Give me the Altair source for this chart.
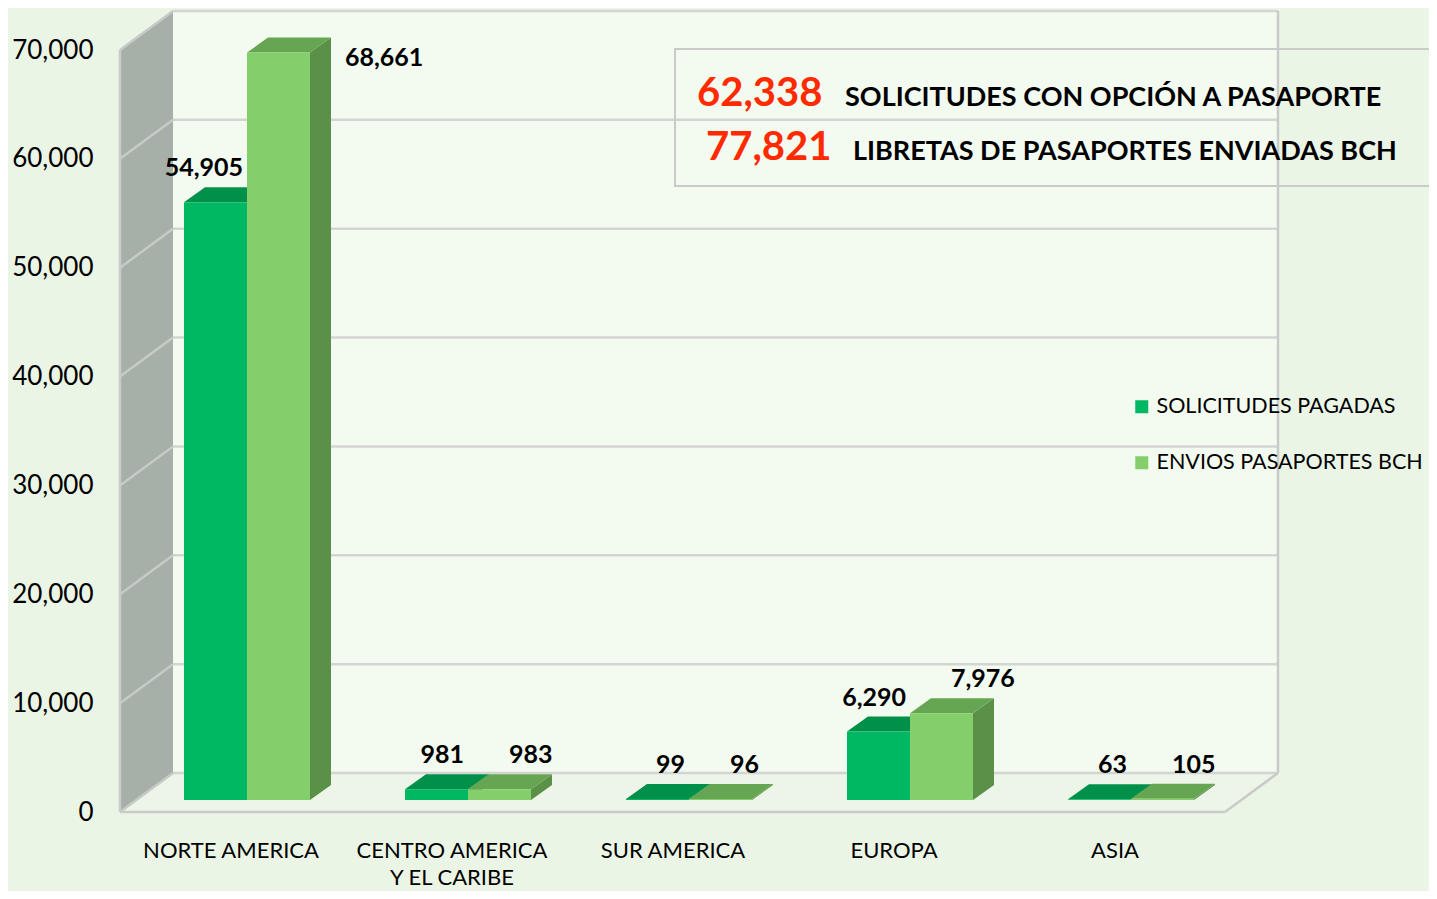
import json
import altair as alt
import pandas as pd

# ---------------- data ----------------
CATEGORIES = ["NORTE AMERICA", "CENTRO AMERICA\nY EL CARIBE", "SUR AMERICA", "EUROPA", "ASIA"]
SERIES = ["SOLICITUDES PAGADAS", "ENVIOS PASAPORTES BCH"]
SOLICITUDES_PAGADAS = [54905, 981, 99, 6290, 63]
ENVIOS_PASAPORTES = [68661, 983, 96, 7976, 105]
Y_TICKS = [0, 10000, 20000, 30000, 40000, 50000, 60000, 70000]
TOTALS = [62338, 77821]
TOTAL_TEXTS = ["SOLICITUDES CON OPCIÓN A PASAPORTE", "LIBRETAS DE PASAPORTES ENVIADAS BCH"]

# ---------------- styling / geometry ----------------
FONT = "Lato"
BG = "#EBF5E6"
WALL = "#F3FAEF"
FLOOR = "#EDF5E8"
LEFT_WALL = "#A7AFA9"
GRID = "#D3D5D3"
GRID_LEFT = "#C6CBC7"
FRONT = ["#00B862", "#84CF6B"]
TOP = ["#00904A", "#66A652"]
SIDE = ["#008A45", "#5A9047"]

CAT_PX = 221.0
W, H = 1158, 802
Y_TOP = Y_TICKS[-1]
PPU = 762.0 / Y_TOP
XMAX = W / CAT_PX
YMAX = H / PPU
N = len(CATEGORIES)


def ux(p):
    return p / CAT_PX


def uy(p):
    return p / PPU


WALL_DX, WALL_DY = ux(53), uy(39)
BAR_DX, BAR_DY = ux(16), uy(12)      # depth position of bar fronts
DEP_DX, DEP_DY = ux(21), uy(15)      # depth of each bar
BAR_X0, BAR_W = ux(48), ux(63)

XS = alt.Scale(domain=[0, XMAX], nice=False, zero=False)
YS = alt.Scale(domain=[0, YMAX], nice=False, zero=False)

label_expr = ""
for i, c in enumerate(CATEGORIES):
    lines = c.split("\n")
    lit = json.dumps(lines if len(lines) > 1 else c, ensure_ascii=False)
    if i < N - 1:
        label_expr += f"datum.value < {i + 1} ? {lit} : "
    else:
        label_expr += lit

XA = alt.Axis(values=[i + 0.5 for i in range(N)], labelExpr=label_expr, title=None,
              ticks=False, domain=False, grid=False, labelFont=FONT, labelFontSize=22,
              labelColor="#000000", labelPadding=28, labelLineHeight=27,
              labelOverlap=False, labelFlush=False, labelBound=False, labelLimit=400,
              labelAlign="center", labelBaseline="top")
YA = alt.Axis(values=Y_TICKS, labelExpr="format(datum.value, ',')", title=None,
              ticks=False, domain=False, grid=False,
              labelFont=FONT, labelFontSize=26, labelColor="#000000", labelPadding=27,
              labelOverlap=False, labelFlush=False, labelBound=False, labelLimit=200)


def X(f="x"):
    return alt.X(f"{f}:Q", scale=XS, axis=XA, stack=None)


def Y(f="y"):
    return alt.Y(f"{f}:Q", scale=YS, axis=YA, stack=None)


# ---------------- walls & floor ----------------
left_wall = pd.DataFrame({"x": [0, WALL_DX], "y": [Y_TOP, Y_TOP + WALL_DY], "y2": [0, WALL_DY]})
floor = pd.DataFrame({"y": [0, WALL_DY], "x": [0, WALL_DX], "x2": [N, N + WALL_DX]})
back = pd.DataFrame({"x": [WALL_DX], "x2": [N + WALL_DX], "y": [WALL_DY], "y2": [Y_TOP + WALL_DY]})

l_back = alt.Chart(back).mark_rect(color=WALL).encode(x=X(), x2="x2", y=Y(), y2="y2")
l_floor = alt.Chart(floor).mark_area(orient="horizontal", color=FLOOR).encode(
    y=Y(), x=X(), x2="x2")
l_left = alt.Chart(left_wall).mark_area(color=LEFT_WALL).encode(x=X(), y=Y(), y2="y2")

grid_back = pd.DataFrame({"x": [WALL_DX] * len(Y_TICKS), "x2": [N + WALL_DX] * len(Y_TICKS),
                          "y": [v + WALL_DY for v in Y_TICKS], "y2": [v + WALL_DY for v in Y_TICKS]})
grid_left = pd.DataFrame({"x": [0] * len(Y_TICKS), "x2": [WALL_DX] * len(Y_TICKS),
                          "y": Y_TICKS, "y2": [v + WALL_DY for v in Y_TICKS]})
l_grid_back = alt.Chart(grid_back).mark_rule(color=GRID, strokeWidth=2.5).encode(
    x=X(), x2="x2", y=Y(), y2="y2")
l_grid_left = alt.Chart(grid_left).mark_rule(color=GRID_LEFT, strokeWidth=2.5).encode(
    x=X(), x2="x2", y=Y(), y2="y2")

edges = pd.DataFrame({
    "x": [0, N, 0, N + WALL_DX],
    "x2": [N, N + WALL_DX, 0, N + WALL_DX],
    "y": [0, 0, 0, WALL_DY],
    "y2": [0, WALL_DY, Y_TOP, Y_TOP + WALL_DY],
})
l_edges = alt.Chart(edges).mark_rule(color="#C9CBC9", strokeWidth=2.5).encode(
    x=X(), x2="x2", y=Y(), y2="y2")

# ---------------- bars ----------------
fronts, tops, sides, labels = [], [], [], []
for i in range(N):
    for s, vals in enumerate([SOLICITUDES_PAGADAS, ENVIOS_PASAPORTES]):
        v = vals[i]
        L = i + BAR_DX + BAR_X0 + s * BAR_W
        R = L + BAR_W
        base = BAR_DY
        top = base + v
        key = f"{i}-{s}"
        fronts.append({"series": SERIES[s], "s": s, "x": L, "x2": R, "y": base, "y2": top})
        tops.append({"key": key, "s": s, "y": top, "x": L, "x2": R})
        tops.append({"key": key, "s": s, "y": top + DEP_DY, "x": L + DEP_DX, "x2": R + DEP_DX})
        sides.append({"key": key, "s": s, "x": R, "y": top, "y2": base})
        sides.append({"key": key, "s": s, "x": R + DEP_DX, "y": top + DEP_DY, "y2": base + DEP_DY})
        txt = f"{v:,}"
        if s == 0:
            labels.append({"s": 0, "x": R - ux(4), "y": top + uy(34), "t": txt})
        else:
            ly = top + uy(34)
            if ly + uy(14) > YMAX:
                labels.append({"s": 1, "x": R + ux(35), "y": top - uy(5), "t": txt})
            else:
                labels.append({"s": 1, "x": L + ux(41), "y": ly, "t": txt})

fronts = pd.DataFrame(fronts)
tops = pd.DataFrame(tops)
sides = pd.DataFrame(sides)
labels = pd.DataFrame(labels)

bar_layers = []
for s in range(2):
    bar_layers.append(
        alt.Chart(sides[sides.s == s]).mark_area(color=SIDE[s]).encode(
            x=X(), y=Y(), y2="y2", detail="key:N"))
for s in range(2):
    bar_layers.append(
        alt.Chart(tops[tops.s == s]).mark_area(orient="horizontal", color=TOP[s]).encode(
            y=Y(), x=X(), x2="x2", detail="key:N"))

l_front = alt.Chart(fronts).mark_rect().encode(
    x=X(), x2="x2", y=Y(), y2="y2",
    color=alt.Color("series:N", scale=alt.Scale(domain=SERIES, range=FRONT),
                    legend=alt.Legend(orient="none", legendX=1011, legendY=386, title=None,
                                      symbolType="square", symbolSize=169, symbolStrokeWidth=0,
                                      labelFont=FONT, labelFontSize=21.5, labelColor="#000000",
                                      labelOffset=4, rowPadding=33, padding=0,
                                      labelLimit=400)))

l_lab_dark = alt.Chart(labels[labels.s == 0]).mark_text(
    align="right", baseline="middle", font=FONT, fontSize=25, fontWeight="bold",
    color="#000000").encode(x=X(), y=Y(), text="t:N")
l_lab_light = alt.Chart(labels[labels.s == 1]).mark_text(
    align="left", baseline="middle", font=FONT, fontSize=25, fontWeight="bold",
    color="#000000").encode(x=X(), y=Y(), text="t:N")

# ---------------- annotation box ----------------
dummy = pd.DataFrame({"a": [0]})
l_box = alt.Chart(dummy).mark_rect(fillOpacity=0, stroke="#C9CBC9", strokeWidth=2).encode(
    x=alt.value(555), x2=alt.value(1330), y=alt.value(39), y2=alt.value(176))

ann_layers = []
for k, (tot, txt) in enumerate(zip(TOTALS, TOTAL_TEXTS)):
    base_y = 96 + k * 54
    ann_layers.append(
        alt.Chart(pd.DataFrame({"t": [f"{tot:,}"]})).mark_text(
            align="left", baseline="alphabetic", font=FONT, fontSize=40, fontWeight="bold",
            color="#FF2A00").encode(text="t:N", x=alt.value(577 + 9 * k), y=alt.value(base_y)))
    ann_layers.append(
        alt.Chart(pd.DataFrame({"t": [txt]})).mark_text(
            align="left", baseline="alphabetic", font=FONT, fontSize=27, fontWeight="bold",
            color="#000000").encode(text="t:N", x=alt.value(725 + 8 * k), y=alt.value(base_y)))

chart = alt.layer(
    l_back, l_floor, l_left, l_grid_back, l_grid_left, l_edges,
    *bar_layers, l_front, l_lab_dark, l_lab_light, l_box, *ann_layers
).properties(
    width=W, height=H,
    padding={"left": 112, "top": 2, "right": 151, "bottom": 79},
    autosize=alt.AutoSizeParams(type="none"),
    background=BG,
).configure_view(stroke=None)

chart.save("out.html", embed_options={"renderer": "svg", "actions": False})
